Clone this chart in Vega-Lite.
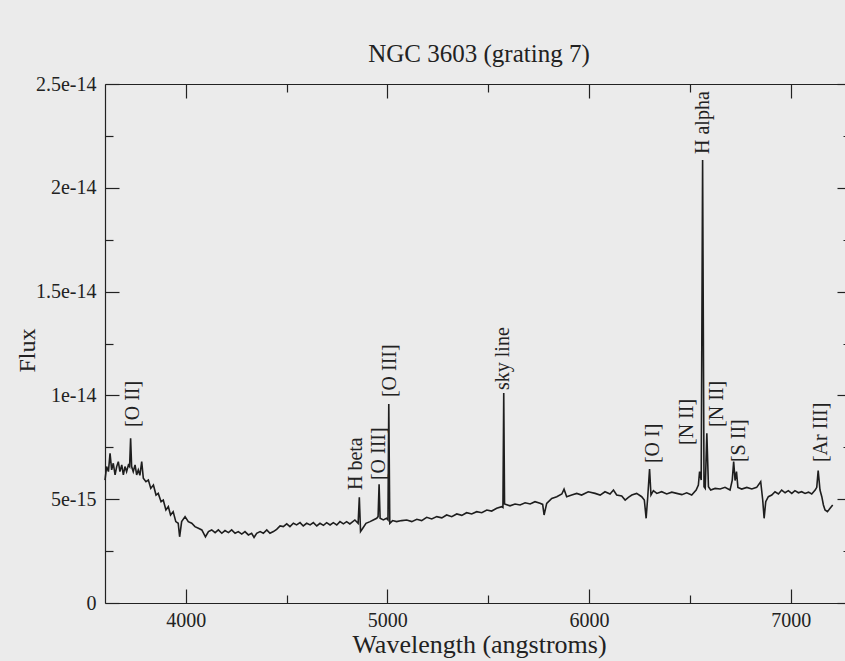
{
  "$schema": "https://vega.github.io/schema/vega-lite/v6.json",
  "width": 740,
  "height": 519,
  "autosize": {"type": "none"},
  "padding": {"left": 105, "top": 84, "right": 0, "bottom": 58},
  "background": "#ebebeb",
  "config": {
    "view": {"stroke": null},
    "font": "Liberation Serif",
    "axis": {
      "grid": false,
      "domainColor": "#222222",
      "tickColor": "#222222",
      "labelColor": "#222222",
      "titleColor": "#222222",
      "labelFont": "Liberation Serif",
      "titleFont": "Liberation Serif",
      "labelFontSize": 20,
      "titleFontSize": 26,
      "titleFontWeight": "normal",
      "labelOverlap": false,
      "labelFlush": false,
      "domainWidth": 1.2,
      "tickWidth": 1.2
    }
  },
  "title": {
    "text": "NGC 3603 (grating 7)",
    "font": "Liberation Serif",
    "fontSize": 25,
    "fontWeight": "normal",
    "color": "#222222",
    "anchor": "middle",
    "frame": "group",
    "baseline": "alphabetic",
    "offset": -13,
    "dx": 4
  },
  "datasets": {
    "spectrum": [
      {"wavelength": 3600, "flux": 5.92e-15}, {"wavelength": 3608, "flux": 6.57e-15},
      {"wavelength": 3617, "flux": 6.33e-15}, {"wavelength": 3625, "flux": 7.21e-15},
      {"wavelength": 3633, "flux": 6.41e-15}, {"wavelength": 3641, "flux": 6.73e-15},
      {"wavelength": 3650, "flux": 6.17e-15}, {"wavelength": 3658, "flux": 6.57e-15},
      {"wavelength": 3666, "flux": 6.81e-15}, {"wavelength": 3674, "flux": 6.33e-15},
      {"wavelength": 3683, "flux": 6.65e-15}, {"wavelength": 3691, "flux": 6.17e-15},
      {"wavelength": 3699, "flux": 6.57e-15}, {"wavelength": 3707, "flux": 6.33e-15},
      {"wavelength": 3716, "flux": 6.65e-15}, {"wavelength": 3722, "flux": 6.57e-15},
      {"wavelength": 3727, "flux": 7.93e-15}, {"wavelength": 3732, "flux": 6.57e-15},
      {"wavelength": 3740, "flux": 6.33e-15}, {"wavelength": 3749, "flux": 6.65e-15},
      {"wavelength": 3757, "flux": 6.17e-15}, {"wavelength": 3765, "flux": 6.41e-15},
      {"wavelength": 3773, "flux": 6.15e-15}, {"wavelength": 3782, "flux": 6.81e-15},
      {"wavelength": 3790, "flux": 6.01e-15}, {"wavelength": 3803, "flux": 5.84e-15},
      {"wavelength": 3815, "flux": 5.92e-15}, {"wavelength": 3827, "flux": 5.52e-15},
      {"wavelength": 3840, "flux": 5.68e-15}, {"wavelength": 3853, "flux": 5.20e-15},
      {"wavelength": 3864, "flux": 5.28e-15}, {"wavelength": 3878, "flux": 4.88e-15},
      {"wavelength": 3889, "flux": 4.96e-15}, {"wavelength": 3902, "flux": 4.48e-15},
      {"wavelength": 3914, "flux": 4.64e-15}, {"wavelength": 3925, "flux": 4.24e-15},
      {"wavelength": 3938, "flux": 4.40e-15}, {"wavelength": 3951, "flux": 3.92e-15},
      {"wavelength": 3963, "flux": 3.84e-15}, {"wavelength": 3970, "flux": 3.19e-15},
      {"wavelength": 3980, "flux": 3.92e-15}, {"wavelength": 3997, "flux": 4.16e-15},
      {"wavelength": 4013, "flux": 3.92e-15}, {"wavelength": 4030, "flux": 3.84e-15},
      {"wavelength": 4046, "flux": 3.68e-15}, {"wavelength": 4063, "flux": 3.60e-15},
      {"wavelength": 4080, "flux": 3.52e-15}, {"wavelength": 4098, "flux": 3.19e-15},
      {"wavelength": 4113, "flux": 3.44e-15}, {"wavelength": 4129, "flux": 3.52e-15},
      {"wavelength": 4146, "flux": 3.39e-15}, {"wavelength": 4162, "flux": 3.52e-15},
      {"wavelength": 4179, "flux": 3.36e-15}, {"wavelength": 4195, "flux": 3.49e-15},
      {"wavelength": 4212, "flux": 3.39e-15}, {"wavelength": 4228, "flux": 3.52e-15},
      {"wavelength": 4245, "flux": 3.36e-15}, {"wavelength": 4261, "flux": 3.44e-15},
      {"wavelength": 4278, "flux": 3.32e-15}, {"wavelength": 4294, "flux": 3.44e-15},
      {"wavelength": 4311, "flux": 3.28e-15}, {"wavelength": 4327, "flux": 3.36e-15},
      {"wavelength": 4339, "flux": 3.16e-15}, {"wavelength": 4352, "flux": 3.36e-15},
      {"wavelength": 4369, "flux": 3.44e-15}, {"wavelength": 4385, "flux": 3.36e-15},
      {"wavelength": 4402, "flux": 3.52e-15}, {"wavelength": 4418, "flux": 3.36e-15},
      {"wavelength": 4435, "flux": 3.44e-15}, {"wavelength": 4451, "flux": 3.55e-15},
      {"wavelength": 4468, "flux": 3.71e-15}, {"wavelength": 4484, "flux": 3.68e-15},
      {"wavelength": 4501, "flux": 3.81e-15}, {"wavelength": 4517, "flux": 3.68e-15},
      {"wavelength": 4534, "flux": 3.84e-15}, {"wavelength": 4550, "flux": 3.76e-15},
      {"wavelength": 4567, "flux": 3.87e-15}, {"wavelength": 4583, "flux": 3.71e-15},
      {"wavelength": 4600, "flux": 3.84e-15}, {"wavelength": 4617, "flux": 3.76e-15},
      {"wavelength": 4633, "flux": 3.87e-15}, {"wavelength": 4650, "flux": 3.71e-15},
      {"wavelength": 4666, "flux": 3.84e-15}, {"wavelength": 4683, "flux": 3.74e-15},
      {"wavelength": 4699, "flux": 3.87e-15}, {"wavelength": 4716, "flux": 3.76e-15},
      {"wavelength": 4732, "flux": 3.87e-15}, {"wavelength": 4749, "flux": 3.76e-15},
      {"wavelength": 4765, "flux": 3.92e-15}, {"wavelength": 4782, "flux": 3.81e-15},
      {"wavelength": 4798, "flux": 3.92e-15}, {"wavelength": 4814, "flux": 3.81e-15},
      {"wavelength": 4839, "flux": 4.00e-15}, {"wavelength": 4855, "flux": 3.84e-15},
      {"wavelength": 4861, "flux": 5.09e-15}, {"wavelength": 4867, "flux": 3.44e-15},
      {"wavelength": 4878, "flux": 3.60e-15}, {"wavelength": 4894, "flux": 3.84e-15},
      {"wavelength": 4914, "flux": 3.92e-15}, {"wavelength": 4930, "flux": 4.00e-15},
      {"wavelength": 4947, "flux": 4.08e-15}, {"wavelength": 4954, "flux": 4.16e-15},
      {"wavelength": 4959, "flux": 5.72e-15}, {"wavelength": 4964, "flux": 4.08e-15},
      {"wavelength": 4980, "flux": 4.00e-15}, {"wavelength": 4996, "flux": 4.08e-15},
      {"wavelength": 5003, "flux": 4.00e-15}, {"wavelength": 5007, "flux": 9.59e-15},
      {"wavelength": 5012, "flux": 3.84e-15}, {"wavelength": 5026, "flux": 3.97e-15},
      {"wavelength": 5046, "flux": 3.92e-15}, {"wavelength": 5071, "flux": 3.97e-15},
      {"wavelength": 5096, "flux": 4.00e-15}, {"wavelength": 5121, "flux": 3.92e-15},
      {"wavelength": 5146, "flux": 4.03e-15}, {"wavelength": 5170, "flux": 3.97e-15},
      {"wavelength": 5195, "flux": 4.13e-15}, {"wavelength": 5220, "flux": 4.05e-15},
      {"wavelength": 5245, "flux": 4.16e-15}, {"wavelength": 5270, "flux": 4.10e-15},
      {"wavelength": 5294, "flux": 4.24e-15}, {"wavelength": 5319, "flux": 4.16e-15},
      {"wavelength": 5344, "flux": 4.29e-15}, {"wavelength": 5369, "flux": 4.22e-15},
      {"wavelength": 5393, "flux": 4.35e-15}, {"wavelength": 5418, "flux": 4.29e-15},
      {"wavelength": 5443, "flux": 4.40e-15}, {"wavelength": 5468, "flux": 4.35e-15},
      {"wavelength": 5493, "flux": 4.48e-15}, {"wavelength": 5517, "flux": 4.43e-15},
      {"wavelength": 5542, "flux": 4.56e-15}, {"wavelength": 5567, "flux": 4.64e-15},
      {"wavelength": 5573, "flux": 4.60e-15}, {"wavelength": 5577, "flux": 1.012e-14},
      {"wavelength": 5581, "flux": 4.77e-15}, {"wavelength": 5608, "flux": 4.68e-15},
      {"wavelength": 5633, "flux": 4.77e-15}, {"wavelength": 5658, "flux": 4.72e-15},
      {"wavelength": 5683, "flux": 4.83e-15}, {"wavelength": 5708, "flux": 4.77e-15},
      {"wavelength": 5732, "flux": 4.88e-15}, {"wavelength": 5757, "flux": 4.80e-15},
      {"wavelength": 5770, "flux": 4.75e-15}, {"wavelength": 5777, "flux": 4.24e-15},
      {"wavelength": 5790, "flux": 4.80e-15}, {"wavelength": 5815, "flux": 5.04e-15},
      {"wavelength": 5840, "flux": 5.12e-15}, {"wavelength": 5865, "flux": 5.25e-15},
      {"wavelength": 5876, "flux": 5.48e-15}, {"wavelength": 5889, "flux": 5.12e-15},
      {"wavelength": 5914, "flux": 5.20e-15}, {"wavelength": 5939, "flux": 5.28e-15},
      {"wavelength": 5963, "flux": 5.20e-15}, {"wavelength": 5996, "flux": 5.36e-15},
      {"wavelength": 6030, "flux": 5.28e-15}, {"wavelength": 6055, "flux": 5.20e-15},
      {"wavelength": 6079, "flux": 5.36e-15}, {"wavelength": 6104, "flux": 5.25e-15},
      {"wavelength": 6121, "flux": 5.44e-15}, {"wavelength": 6137, "flux": 5.20e-15},
      {"wavelength": 6162, "flux": 5.16e-15}, {"wavelength": 6179, "flux": 4.96e-15},
      {"wavelength": 6195, "flux": 5.09e-15}, {"wavelength": 6212, "flux": 5.20e-15},
      {"wavelength": 6236, "flux": 5.28e-15}, {"wavelength": 6261, "flux": 5.12e-15},
      {"wavelength": 6274, "flux": 4.96e-15}, {"wavelength": 6283, "flux": 4.08e-15},
      {"wavelength": 6291, "flux": 5.12e-15}, {"wavelength": 6300, "flux": 6.45e-15},
      {"wavelength": 6307, "flux": 5.20e-15}, {"wavelength": 6319, "flux": 5.41e-15},
      {"wavelength": 6336, "flux": 5.28e-15}, {"wavelength": 6360, "flux": 5.36e-15},
      {"wavelength": 6385, "flux": 5.25e-15}, {"wavelength": 6410, "flux": 5.34e-15},
      {"wavelength": 6435, "flux": 5.28e-15}, {"wavelength": 6460, "flux": 5.22e-15},
      {"wavelength": 6484, "flux": 5.31e-15}, {"wavelength": 6509, "flux": 5.20e-15},
      {"wavelength": 6531, "flux": 5.44e-15}, {"wavelength": 6542, "flux": 5.68e-15},
      {"wavelength": 6548, "flux": 6.33e-15}, {"wavelength": 6556, "flux": 5.92e-15},
      {"wavelength": 6563, "flux": 2.134e-14}, {"wavelength": 6570, "flux": 5.60e-15},
      {"wavelength": 6576, "flux": 5.52e-15}, {"wavelength": 6584, "flux": 8.17e-15},
      {"wavelength": 6592, "flux": 5.60e-15}, {"wavelength": 6603, "flux": 5.44e-15},
      {"wavelength": 6625, "flux": 5.52e-15}, {"wavelength": 6650, "flux": 5.49e-15},
      {"wavelength": 6674, "flux": 5.57e-15}, {"wavelength": 6699, "flux": 5.44e-15},
      {"wavelength": 6710, "flux": 5.92e-15}, {"wavelength": 6717, "flux": 6.81e-15},
      {"wavelength": 6724, "flux": 5.90e-15}, {"wavelength": 6731, "flux": 6.33e-15},
      {"wavelength": 6738, "flux": 5.57e-15}, {"wavelength": 6757, "flux": 5.49e-15},
      {"wavelength": 6782, "flux": 5.57e-15}, {"wavelength": 6807, "flux": 5.49e-15},
      {"wavelength": 6831, "flux": 5.57e-15}, {"wavelength": 6851, "flux": 5.84e-15},
      {"wavelength": 6861, "flux": 4.96e-15}, {"wavelength": 6868, "flux": 4.08e-15},
      {"wavelength": 6876, "flux": 4.88e-15}, {"wavelength": 6889, "flux": 5.12e-15},
      {"wavelength": 6906, "flux": 5.20e-15}, {"wavelength": 6922, "flux": 5.36e-15},
      {"wavelength": 6939, "flux": 5.25e-15}, {"wavelength": 6955, "flux": 5.44e-15},
      {"wavelength": 6972, "flux": 5.31e-15}, {"wavelength": 6988, "flux": 5.41e-15},
      {"wavelength": 7005, "flux": 5.28e-15}, {"wavelength": 7021, "flux": 5.41e-15},
      {"wavelength": 7038, "flux": 5.31e-15}, {"wavelength": 7054, "flux": 5.36e-15},
      {"wavelength": 7071, "flux": 5.28e-15}, {"wavelength": 7088, "flux": 5.34e-15},
      {"wavelength": 7104, "flux": 5.25e-15}, {"wavelength": 7121, "flux": 5.44e-15},
      {"wavelength": 7129, "flux": 5.57e-15}, {"wavelength": 7136, "flux": 6.38e-15},
      {"wavelength": 7145, "flux": 5.44e-15}, {"wavelength": 7154, "flux": 5.12e-15},
      {"wavelength": 7162, "flux": 4.72e-15}, {"wavelength": 7170, "flux": 4.48e-15},
      {"wavelength": 7182, "flux": 4.40e-15}, {"wavelength": 7195, "flux": 4.56e-15},
      {"wavelength": 7208, "flux": 4.72e-15}
    ],
    "lines": [
      {"line": "[O II]", "wavelength": 3739, "flux": 8.48e-15},
      {"line": "H beta", "wavelength": 4844, "flux": 5.44e-15},
      {"line": "[O III]", "wavelength": 4958, "flux": 5.92e-15},
      {"line": "[O III]", "wavelength": 5013, "flux": 9.92e-15},
      {"line": "sky line", "wavelength": 5573, "flux": 1.026e-14},
      {"line": "[O I]", "wavelength": 6317, "flux": 6.74e-15},
      {"line": "[N II]", "wavelength": 6485, "flux": 7.61e-15},
      {"line": "H alpha", "wavelength": 6565, "flux": 2.163e-14},
      {"line": "[N II]", "wavelength": 6634, "flux": 8.48e-15},
      {"line": "[S II]", "wavelength": 6743, "flux": 6.79e-15},
      {"line": "[Ar III]", "wavelength": 7150, "flux": 6.79e-15}
    ]
  },
  "layer": [
    {
      "data": {"name": "spectrum"},
      "mark": {"type": "line", "color": "#1e1e1e", "strokeWidth": 1.6},
      "encoding": {
        "x": {
          "field": "wavelength",
          "type": "quantitative",
          "scale": {"domain": [3600, 7269], "nice": false, "zero": false},
          "axis": {
            "orient": "bottom",
            "values": [4000, 5000, 6000, 7000],
            "format": "d",
            "tickSize": -14,
            "labelPadding": 21,
            "title": "Wavelength (angstroms)",
            "titleX": 374,
            "titleY": 49,
            "titleBaseline": "alphabetic",
            "titleAlign": "center"
          }
        },
        "y": {
          "field": "flux",
          "type": "quantitative",
          "scale": {"domain": [0, 2.5e-14], "nice": false},
          "axis": {
            "orient": "left",
            "values": [0, 5e-15, 1e-14, 1.5e-14, 2e-14, 2.5e-14],
            "labelExpr": "datum.value === 0 ? '0' : format(datum.value, '~e')",
            "tickSize": -14,
            "labelPadding": 23,
            "title": "Flux",
            "titleFontSize": 24,
            "titleX": -78,
            "titleY": 266,
            "titleAngle": 270,
            "titleBaseline": "middle",
            "titleAlign": "center"
          }
        }
      }
    },
    {
      "data": {"name": "lines"},
      "mark": {
        "type": "text",
        "angle": 270,
        "align": "left",
        "baseline": "middle",
        "font": "Liberation Serif",
        "fontSize": 20,
        "color": "#222222"
      },
      "encoding": {
        "x": {
          "field": "wavelength",
          "type": "quantitative",
          "axis": {
            "orient": "top",
            "values": [4000, 5000, 6000, 7000],
            "labels": false,
            "title": null,
            "tickSize": -14
          }
        },
        "y": {
          "field": "flux",
          "type": "quantitative",
          "axis": {
            "orient": "right",
            "values": [0, 5e-15, 1e-14, 1.5e-14, 2e-14, 2.5e-14],
            "labels": false,
            "domain": false,
            "title": null,
            "tickSize": -8
          }
        },
        "text": {"field": "line", "type": "nominal"}
      }
    },
    {
      "data": {"name": "lines"},
      "mark": {"type": "point", "opacity": 0},
      "encoding": {
        "x": {
          "field": "wavelength",
          "type": "quantitative",
          "axis": {
            "orient": "bottom",
            "values": [4500, 5500, 6500],
            "labels": false,
            "domain": false,
            "title": null,
            "tickSize": -8
          }
        },
        "y": {
          "field": "flux",
          "type": "quantitative",
          "axis": {
            "orient": "left",
            "values": [2.5e-15, 7.5e-15, 1.25e-14, 1.75e-14, 2.25e-14],
            "labels": false,
            "domain": false,
            "title": null,
            "tickSize": -8
          }
        }
      }
    },
    {
      "data": {"name": "lines"},
      "mark": {"type": "point", "opacity": 0},
      "encoding": {
        "x": {
          "field": "wavelength",
          "type": "quantitative",
          "axis": {
            "orient": "top",
            "values": [4500, 5500, 6500],
            "labels": false,
            "domain": false,
            "title": null,
            "tickSize": -8
          }
        },
        "y": {
          "field": "flux",
          "type": "quantitative",
          "axis": {
            "orient": "right",
            "values": [2.5e-15, 7.5e-15, 1.25e-14, 1.75e-14, 2.25e-14],
            "labels": false,
            "domain": false,
            "title": null,
            "tickSize": -2
          }
        }
      }
    }
  ],
  "resolve": {"axis": {"x": "independent", "y": "independent"}}
}
